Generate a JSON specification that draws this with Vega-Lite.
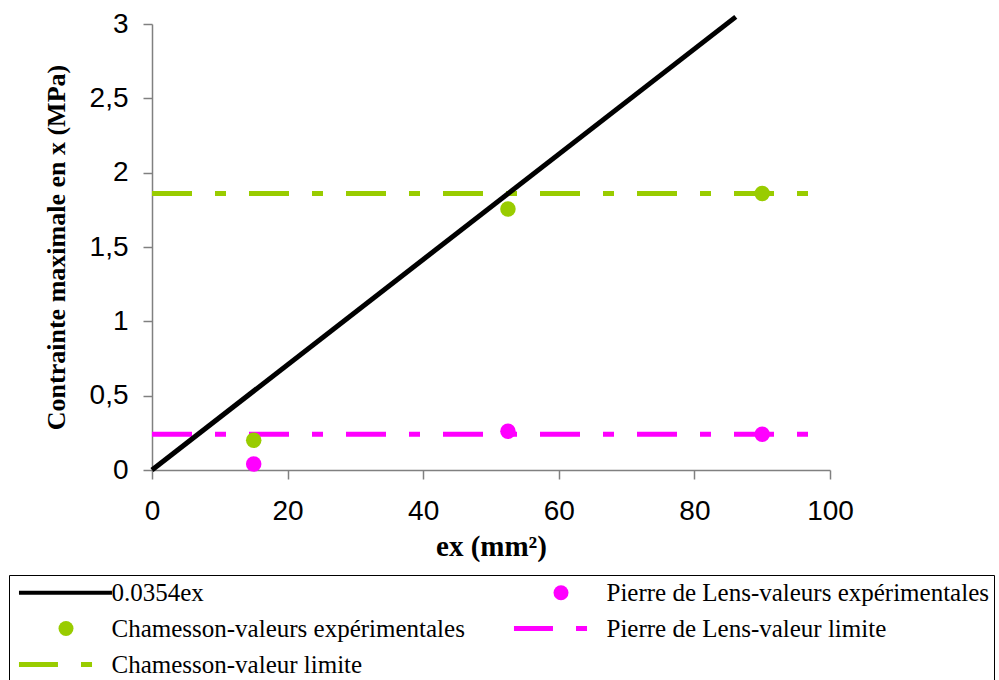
{
  "$schema": "https://vega.github.io/schema/vega-lite/v6.json",
  "width": 678,
  "height": 446,
  "autosize": "none",
  "padding": {"left": 152, "top": 24, "right": 169, "bottom": 210},
  "background": "white",
  "config": {
    "view": {"stroke": null},
    "axis": {
      "grid": false,
      "labelFlush": false,
      "domainColor": "#808080",
      "domainWidth": 1.5,
      "tickColor": "#808080",
      "tickWidth": 1.5,
      "tickSize": 9,
      "labelFont": "Liberation Sans",
      "labelFontSize": 28,
      "labelColor": "black",
      "titleFont": "Liberation Serif",
      "titleFontSize": 26,
      "titleFontWeight": "bold",
      "titleColor": "black"
    }
  },
  "datasets": {
    "fit": [
      {"series": "0.0354ex", "ex": 0, "c": 0},
      {"series": "0.0354ex", "ex": 86.1, "c": 3.048}
    ],
    "limits": [
      {"series": "Chamesson-valeur limite", "ex": 0, "c": 1.86},
      {"series": "Chamesson-valeur limite", "ex": 100, "c": 1.86},
      {"series": "Pierre de Lens-valeur limite", "ex": 0, "c": 0.24},
      {"series": "Pierre de Lens-valeur limite", "ex": 100, "c": 0.24}
    ],
    "points": [
      {"series": "Chamesson-valeurs expérimentales", "ex": 15, "c": 0.2},
      {"series": "Chamesson-valeurs expérimentales", "ex": 52.5, "c": 1.755},
      {"series": "Chamesson-valeurs expérimentales", "ex": 90, "c": 1.86},
      {"series": "Pierre de Lens-valeurs expérimentales", "ex": 15, "c": 0.04},
      {"series": "Pierre de Lens-valeurs expérimentales", "ex": 52.5, "c": 0.26},
      {"series": "Pierre de Lens-valeurs expérimentales", "ex": 90, "c": 0.24}
    ]
  },
  "encoding": {
    "x": {
      "field": "ex",
      "type": "quantitative",
      "scale": {"domain": [0, 100], "nice": false, "zero": false},
      "axis": {
        "title": "ex (mm²)",
        "values": [0, 20, 40, 60, 80, 100],
        "labelPadding": 18,
        "titlePadding": 7,
        "titleFontSize": 29
      }
    },
    "y": {
      "field": "c",
      "type": "quantitative",
      "scale": {"domain": [0, 3], "nice": false, "zero": false},
      "axis": {
        "title": "Contrainte maximale en x (MPa)",
        "values": [0, 0.5, 1, 1.5, 2, 2.5, 3],
        "format": "~g",
        "labelExpr": "replace(datum.label, '.', ',')",
        "labelPadding": 15,
        "titlePadding": 20
      }
    },
    "color": {
      "field": "series",
      "type": "nominal",
      "scale": {
        "domain": [
          "0.0354ex",
          "Pierre de Lens-valeurs expérimentales",
          "Chamesson-valeurs expérimentales",
          "Pierre de Lens-valeur limite",
          "Chamesson-valeur limite"
        ],
        "range": ["#000000", "#FF00FF", "#99CC00", "#FF00FF", "#99CC00"]
      },
      "legend": {
        "title": null,
        "orient": "none",
        "direction": "horizontal",
        "legendX": -143,
        "legendY": 551,
        "columns": 2,
        "columnPadding": 44,
        "rowPadding": 10,
        "padding": 5,
        "strokeColor": "black",
        "fillColor": "white",
        "symbolSize": 225,
        "symbolOffset": 39.5,
        "labelOffset": 33,
        "labelFont": "Liberation Serif",
        "labelFontSize": 25,
        "labelColor": "black",
        "labelLimit": 600,
        "encode": {
          "symbols": {
            "update": {
              "shape": {"signal": "datum.value === '0.0354ex' ? 'M-6.27,-0.27L6.13,-0.27L6.13,0.27L-6.27,0.27Z' : (indexof(datum.value, 'limite') >= 0 ? 'M-6.27,-0.33L-1.07,-0.33L-1.07,0.33L-6.27,0.33ZM2,-0.33L3.47,-0.33L3.47,0.33L2,0.33Z' : 'circle')"},
              "fill": {"scale": "color", "field": "value"},
              "stroke": {"value": "transparent"},
              "strokeWidth": {"value": 0},
              "opacity": {"value": 1}
            }
          }
        }
      }
    }
  },
  "layer": [
    {
      "data": {"name": "limits"},
      "mark": {"type": "line", "strokeWidth": 5, "strokeDash": [40, 23, 11, 23], "strokeCap": "butt"}
    },
    {
      "data": {"name": "fit"},
      "mark": {"type": "line", "strokeWidth": 5, "clip": false, "strokeCap": "butt"}
    },
    {
      "data": {"name": "points"},
      "mark": {"type": "point", "filled": true, "shape": "circle", "size": 240, "opacity": 1}
    }
  ]
}
